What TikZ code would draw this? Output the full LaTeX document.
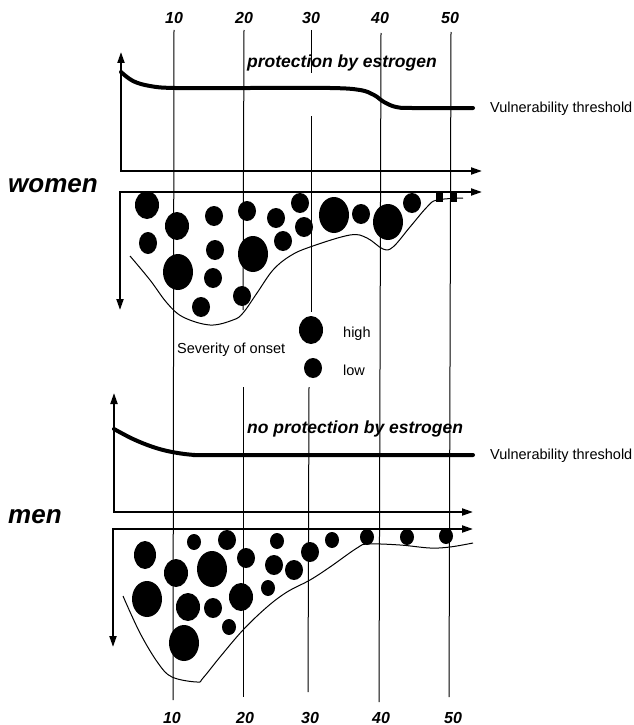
\documentclass[tikz,border=0pt]{standalone}
\usepackage{fontspec}
\setmainfont{Liberation Sans}
\usetikzlibrary{arrows.meta}
\newcommand{\blob}[4]{%
  \fill (#1,#2) ellipse [x radius=#3pt,y radius=#4pt];
}
\newcommand{\ageline}[4]{%
  \draw[agegrid] (#1,#2) -- (#3,#4);
}

\begin{document}
\begin{tikzpicture}[x=1pt,y=-1pt,
    axisline/.style={line width=2pt,{Triangle[length=11pt,width=7pt]}-{Triangle[length=11pt,width=7pt]}},
    thresh/.style={line width=4pt,line cap=round},
    agegrid/.style={line width=1pt},
    onset/.style={line width=1pt},
    numlbl/.style={font=\fontsize{16}{19}\selectfont\bfseries\itshape,anchor=base,inner sep=0pt},
    sexlbl/.style={font=\fontsize{26}{30}\selectfont\bfseries\itshape,anchor=base west,inner sep=0pt},
    protlbl/.style={font=\fontsize{17.5}{20}\selectfont\bfseries\itshape,anchor=base west,inner sep=0pt},
    smalllbl/.style={font=\fontsize{14.5}{16}\selectfont,anchor=base west,inner sep=0pt}]
        \useasboundingbox (0,0) rectangle (634,725);
        % age grid
        \ageline{174}{30}{173}{700}
        \ageline{244}{30}{243}{310}
        \ageline{243}{387}{243}{697}
        \ageline{311}{30}{311}{73}
        \ageline{311}{116}{311}{312}
        \ageline{309}{387}{308}{692}
        \ageline{381}{33}{379}{702}
        \ageline{451}{32}{449}{697}
        \foreach \x/\a in {174/10,244/20,311/30,380/40,450/50}{\node[numlbl] (top\a) at (\x,24) {\a};}
        \foreach \x/\a in {172/10,245/20,310/30,381/40,453/50}{\node[numlbl] (bot\a) at (\x,723) {\a};}
        % women
        \node[sexlbl] (women) at (8,192) {women};
        \node[protlbl] (womenprot) at (247,67) {protection by estrogen};
        \node[smalllbl] (womenvt) at (490,112) {Vulnerability threshold};
        \draw[axisline] (121,52) -- (121,171) -- (482,171);
        \draw[axisline] (482,192) -- (120,192) -- (120,310);
        \draw[thresh] plot[smooth,tension=0.6] coordinates {(121,72) (133,81) (150,86) (175,88) (250,88) (330,88)
          (360,90) (374,95) (384,102) (396,107) (412,108) (473,108)};
        \draw[onset] plot[smooth,tension=0.6] coordinates {(130,256) (150,280) (167,303) (183,317) (210,325) (233,320)
          (243,313) (257,293) (273,270) (290,256) (310,247) (350,235) (367,238) (383,249) (393,247) (410,227)
          (427,207) (437,200) (463,198)};
        \foreach \x/\y/\a/\b in {147/205/12/14,177/226/12/14,148/243/9/11,178/272/15/18,214/216/9/10,
          215/250/9/10,213/278/9/10,201/307/9/10,247/211/9/10,253/254/15/18,242/296/9/10,276/218/9/10,
          283/241/9/10,300/203/9/10,304/227/9/10,334/215/15/18,361/214/9/10,388/222/15/18,412/203/9/10}{
          \blob{\x}{\y}{\a}{\b}}
        \fill (436,193) rectangle (443,202);
        \fill (450,193) rectangle (457,202);
        % severity legend
        \blob{311}{330}{12}{14}
        \blob{313}{368}{9}{10}
        \node[smalllbl] (high) at (343,337) {high};
        \node[smalllbl] (low) at (343,375) {low};
        \node[smalllbl] (severity) at (177,353) {Severity of onset};
        % men
        \node[sexlbl] (men) at (8,523) {men};
        \node[protlbl] (menprot) at (247,433) {no protection by estrogen};
        \node[smalllbl] (menvt) at (490,459) {Vulnerability threshold};
        \draw[axisline] (114,393) -- (114,512) -- (473,512);
        \draw[axisline] (473,529) -- (113,529) -- (113,647);
        \draw[thresh] plot[smooth,tension=0.6] coordinates {(114,429) (133,439) (153,447) (172,452) (195,455)
          (220,455) (473,455)};
        \draw[onset] plot[smooth,tension=0.6] coordinates {(123,596) (140,633) (158,663) (172,677) (197,682)
          (203,678) (220,657) (243,630) (267,607) (287,592) (310,580) (330,567) (357,548) (368,544) (400,545)
          (430,548) (450,547) (473,543)};
        \foreach \x/\y/\a/\b in {145/555/11/14,176/573/12/14,194/542/7/8,227/540/9/10,212/569/15/18,
          246/558/9/10,277/541/7/8,274/565/9/10,294/570/9/10,147/599/15/18,188/607/12/14,213/608/9/10,
          241/597/12/14,268/588/7/8,229/627/7/8,184/643/15/18,310/552/9/10,332/540/7/8,367/537/7/8,
          407/537/7/8,446/536/7/8}{
          \blob{\x}{\y}{\a}{\b}}
      \end{tikzpicture}
\end{document}
